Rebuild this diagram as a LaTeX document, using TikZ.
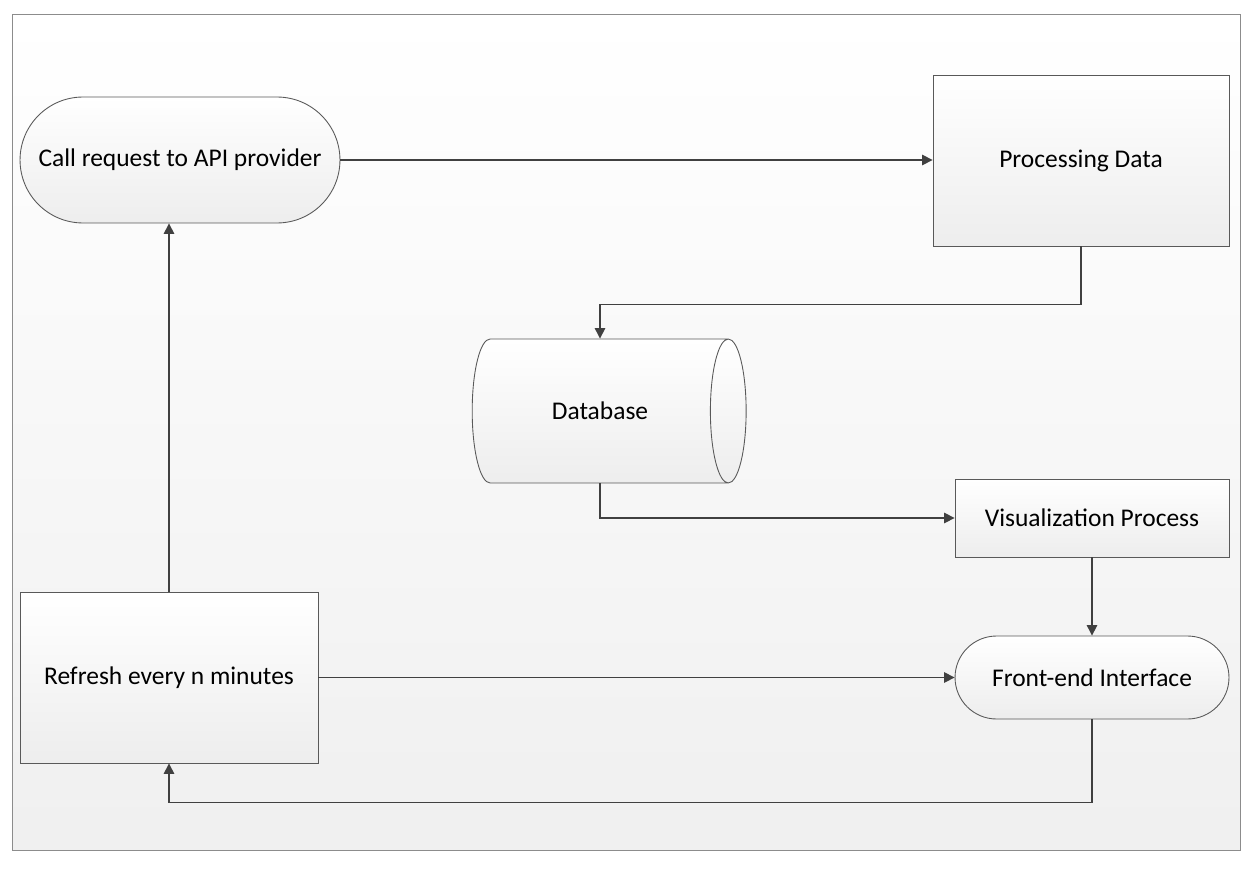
\documentclass[tikz,border=0pt]{standalone}
\usepackage{fontspec}
\setmainfont{Carlito}
\usetikzlibrary{arrows.meta,shapes.geometric,shapes.misc}
\begin{document}
\begin{tikzpicture}[x=0.02cm, y=-0.02cm]
  \tikzstyle{box}=[draw=black!65, line width=0.5pt, top color=white, bottom color=black!7, font=\fontsize{14.5}{17}\selectfont, inner sep=0pt]
  \tikzstyle{term}=[box, rounded rectangle]
  \tikzstyle{store}=[box, cylinder, shape aspect=2]
  \tikzstyle{arr}=[draw=black!75, line width=0.75pt, -{Triangle[length=6pt, width=6pt]}]

  \useasboundingbox (0,0) rectangle (1256,868);
  \draw[draw=black!45, top color=white, bottom color=black!6] (12,14) rectangle (1240,850);

  \node[term]  (call)    at (180, 160)    [minimum width=6.4cm,  minimum height=2.52cm] {Call request to API provider};
  \node[box]   (proc)    at (1081, 160.5) [minimum width=5.92cm, minimum height=3.42cm] {Processing Data};
  \node[store] (db)      at (600, 411)    [minimum height=5.48cm, minimum width=2.88cm] {Database};
  \node[box]   (vis)     at (1092, 518)   [minimum width=5.48cm, minimum height=1.56cm] {Visualization Process};
  \node[term]  (front)   at (1092, 677.5) [minimum width=5.48cm, minimum height=1.66cm] {Front-end Interface};
  \node[box]   (refresh) at (169, 677.5)  [minimum width=5.96cm, minimum height=3.42cm] {Refresh every n minutes};

  \draw[arr] (call.east) -- (call.east -| proc.west);
  \draw[arr] (proc.south) -- ++(0,58) -| (db.north);
  \draw[arr] (db.south) |- (vis.west);
  \draw[arr] (vis.south) -- (front.north);
  \draw[arr] (refresh.east) -- (front.west);
  \draw[arr] (front.south) -- ++(0,83) -| (refresh.south);
  \draw[arr] (refresh.north) -- (refresh.north |- call.south);

\end{tikzpicture}
\end{document}
